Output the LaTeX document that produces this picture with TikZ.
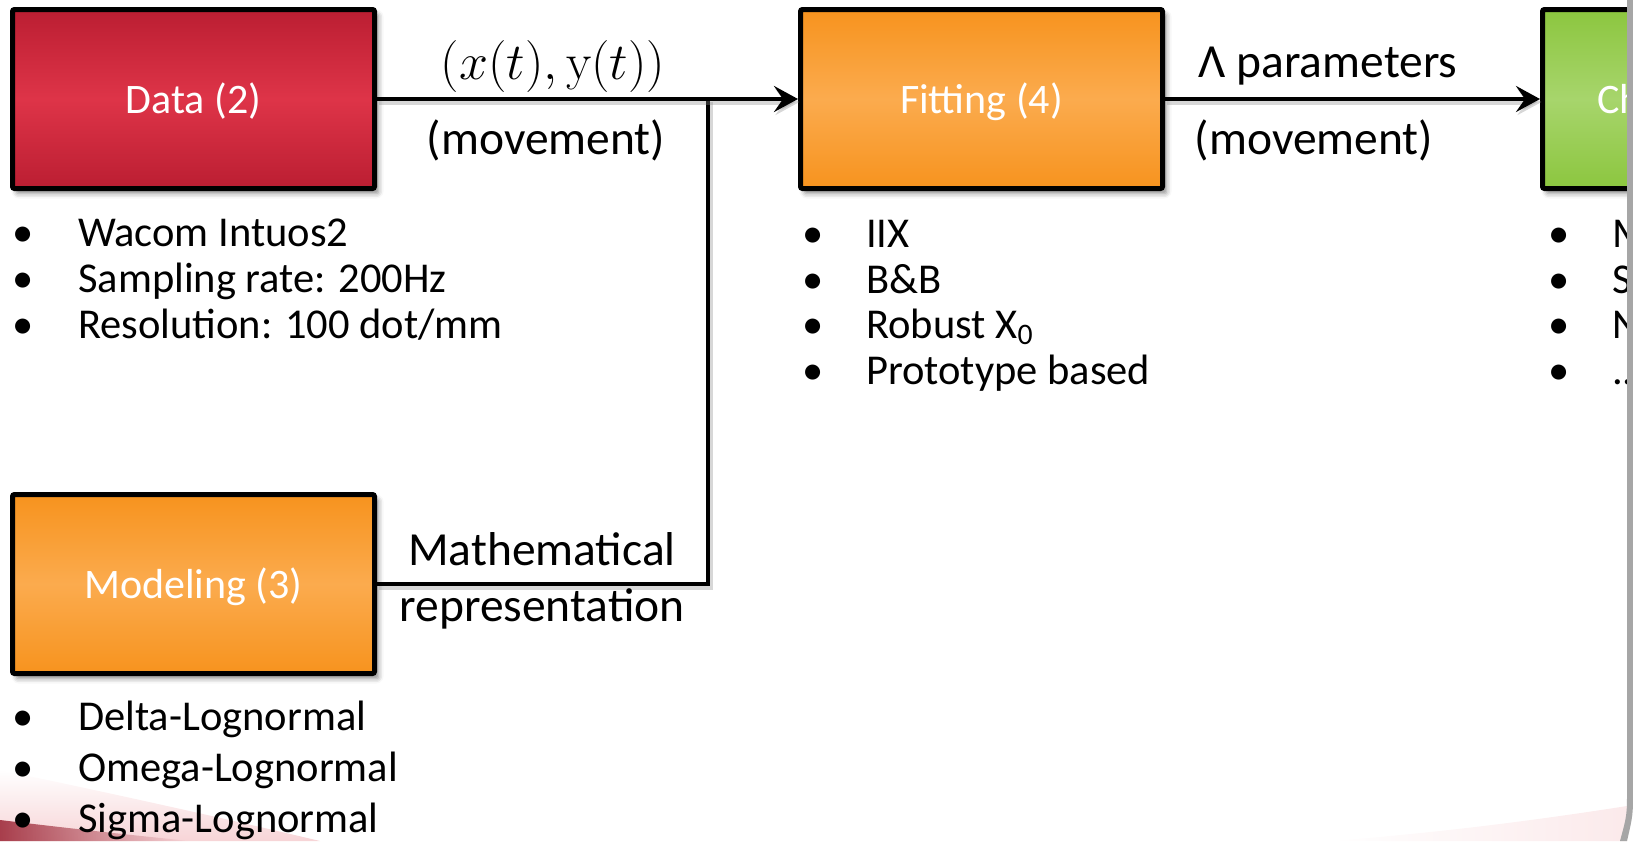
\RequirePackage{fix-cm}
\documentclass[tikz,border=0pt]{standalone}
\usepackage[no-math]{fontspec}
\setmainfont{Carlito}
\usetikzlibrary{arrows.meta,shadows.blur,fadings}

\definecolor{dataTop}{HTML}{BB1E32}
\definecolor{dataMid}{HTML}{DE3448}
\definecolor{fitTop}{HTML}{F7931E}
\definecolor{fitMid}{HTML}{FBAB4E}
\definecolor{grnTop}{HTML}{8CC63F}
\definecolor{grnMid}{HTML}{A7D56C}
\definecolor{edgegray}{HTML}{A6A6A6}
\definecolor{swooshDark}{HTML}{A83E4C}
\definecolor{swooshPale}{HTML}{F2B8BC}

\tikzset{
  stage/.style={draw=black, line width=5pt, rounded corners=2pt,
    minimum width=362pt, minimum height=179pt, inner sep=0pt,
    text height=31pt, text depth=3pt,
    text=white, font=\fontsize{42}{50}\selectfont,
    blur shadow={shadow xshift=4pt, shadow yshift=-5pt,
      shadow blur radius=5pt, shadow opacity=45}},
  redfill/.style={top color=dataTop, bottom color=dataTop, middle color=dataMid},
  orangefill/.style={top color=fitTop, bottom color=fitTop, middle color=fitMid},
  greenfill/.style={top color=grnTop, bottom color=grnTop, middle color=grnMid},
  conn/.style={line width=4.5pt, draw=black,
    preaction={draw=black!45, opacity=0.35, line width=6pt,
      transform canvas={xshift=1.5pt, yshift=-3pt}}},
  tip/.style={-{Stealth[length=24pt, width=26pt, inset=9pt]}},
  lbl/.style={anchor=base, inner sep=0pt, font=\fontsize{47.5}{56}\selectfont},
  mathlbl/.style={anchor=base, inner sep=0pt, font=\fontsize{52}{60}\selectfont},
  dot/.style={anchor=base, inner sep=0pt, font=\fontsize{42.5}{50}\selectfont},
  item/.style={anchor=base west, inner sep=0pt, font=\fontsize{42.5}{50}\selectfont},
}

\begin{document}
\begin{tikzpicture}[x=1pt, y=-1pt]
\useasboundingbox (0,0) rectangle (1633,841);

% slide background decoration
\shade[top color=white, bottom color=swooshPale, opacity=0.6]
  (0,770) .. controls (120,795) and (240,822) .. (320,841) -- (0,841) -- cycle;
\fill[swooshDark, path fading=east]
  (0,820) .. controls (50,826) and (110,833) .. (190,841) -- (0,841) -- cycle;
\shade[left color=white, right color=swooshPale, opacity=0.3]
  (1330,841) .. controls (1450,832) and (1550,818) .. (1627,806) -- (1627,841) -- cycle;

\begin{scope}
\clip (0,0) rectangle (1627,841);

% stages
\node[stage, redfill] (data) at (193.5,99) {Data (2)};
\node[stage, orangefill] (model) at (193.5,584) {Modeling (3)};
\node[stage, orangefill] (fit) at (981.5,99) {Fitting (4)};
\node[stage, greenfill, text width=362pt, align=left] (charac) at (1723.5,99)
  {\hspace*{55pt}Ch};

% connectors
\coordinate (join) at (708,99);
\draw[conn] (model.east) -| (join);
\draw[conn, tip] (data.east) -- (fit.west);
\draw[conn, tip] (fit.east) -- (charac.west);

% connector labels
\node[mathlbl] (lxy) at (553,79) {$(x(t),\mathrm{y}(t))$};
\node[lbl] (lmove1) at (546,154) {(movement)};
\node[lbl] (lmath) at (542,565) {Mathematical};
\node[lbl] (lrep) at (542,621) {representation};
\node[lbl] (llam) at (1328,77) {Λ parameters};
\node[lbl] (lmove2) at (1314,154) {(movement)};

% data notes
\node[dot] (d1) at (23,246) {•};  \node[item] (dt1) at (78,246) {Wacom Intuos2};
\node[dot] (d2) at (23,292) {•};  \node[item] (dt2) at (78,292) {Sampling rate: 200Hz};
\node[dot] (d3) at (23,338) {•};  \node[item] (dt3) at (78,338) {Resolution: 100 dot/mm};

% fitting notes
\node[dot] (f1) at (813,247) {•};  \node[item] (ft1) at (866,247) {IIX};
\node[dot] (f2) at (813,293) {•};  \node[item] (ft2) at (866,293) {B\&B};
\node[dot] (f3) at (813,338) {•};  \node[item] (ft3) at (866,338) {Robust X\textsubscript{0}};
\node[dot] (f4) at (813,384) {•};  \node[item] (ft4) at (866,384) {Prototype based};

% third column notes
\node[dot] (c1) at (1559,247) {•};  \node[item] (ct1) at (1612,247) {M};
\node[dot] (c2) at (1559,293) {•};  \node[item] (ct2) at (1612,293) {S};
\node[dot] (c3) at (1559,338) {•};  \node[item] (ct3) at (1612,338) {N};
\node[dot] (c4) at (1559,384) {•};  \node[item] (ct4) at (1612,384) {...};

% modeling notes
\node[dot] (m1) at (23,730) {•};  \node[item] (mt1) at (78,730) {Delta-Lognormal};
\node[dot] (m2) at (23,781) {•};  \node[item] (mt2) at (78,781) {Omega-Lognormal};
\node[dot] (m3) at (23,832) {•};  \node[item] (mt3) at (78,832) {Sigma-Lognormal};
\end{scope}

% right slide edge
\fill[edgegray] (1627,0) -- (1633,0) -- (1633,790)
  .. controls (1633,815) .. (1627,841) -- (1620,841)
  .. controls (1627,815) .. (1627,790) -- cycle;
\end{tikzpicture}
\end{document}
